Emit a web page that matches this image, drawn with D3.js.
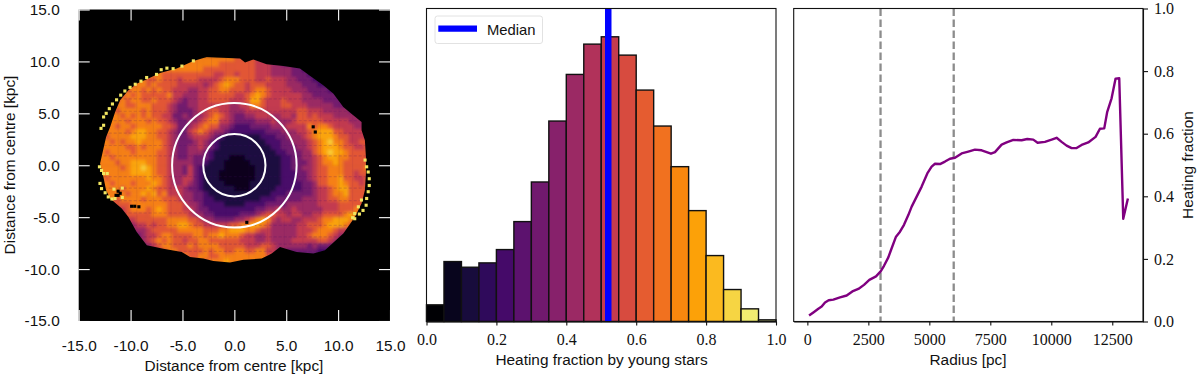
<!DOCTYPE html>
<html>
<head>
<meta charset="utf-8">
<script src="https://d3js.org/d3.v7.min.js"></script>
<style>
  html, body { margin: 0; padding: 0; background: #fff; }
  svg { display: block; }
  text.sans { font-family: "Liberation Sans", sans-serif; }
</style>
</head>
<body>
<div id="chart"></div>
<script>
// map: heating fraction level per 0.5 kpc cell (0 = dark .. 9 = bright)
const mapRowsTop = 10.5, mapColsLeft = -13.5, mapCell = 0.5;
const levelFractions = [.05, .11, .22, .32, .42, .52, .62, .72, .8, .88];
const mapRows = [
  "777777777 777777777 777777777 666655554 333322222 222222222",
  "777777777 777777777 777777666 666655544 333222222 222222222",
  "777777777 777777777 777666666 666655544 443322222 222222222",
  "777777777 777766666 666665566 566655544 443332222 222222222",
  "777777777 766766656 665555677 766655655 544333222 222222222",
  "777777767 767666655 555456787 665666555 544433322 222222222",
  "777777677 676766555 445566776 665677655 554443333 222222222",
  "777776767 666667554 445566666 556787655 555544333 332222222",
  "777767677 667666543 445566665 556886555 655544443 333322222",
  "777777667 776665433 445555554 455776555 665554444 433332222",
  "777767777 676665433 345566554 445555555 555665554 444433333",
  "777776767 676655334 344567654 334455544 554665655 544444333",
  "777777677 767665433 445677554 333344454 445666665 555544443",
  "777767767 777766533 456766443 222333344 455557677 655554444",
  "777777678 877665433 567654432 222222333 444556788 866555555",
  "776777788 877665433 455543211 111112223 344456788 876655555",
  "777676778 777765433 345432111 111111222 334445678 977655666",
  "777777667 677765433 445432111 111111122 333445678 887665566",
  "776777767 777665433 444321111 111111112 233344678 988766666",
  "777677777 777665433 433321110 001111111 223344567 887766666",
  "777767788 877665444 433211100 000111111 223334567 787666667",
  "777776788 987665443 532111100 000011111 223344566 777666677",
  "777777788 887665443 532111000 000011111 222334566 777665666",
  "776777777 787765445 532111000 000011111 222334566 778665566",
  "777677767 778765445 432111100 000111111 222233466 778766566",
  "077776777 787665554 332111111 000111112 222233455 678866666",
  "007777677 878675554 433211111 111111122 233333455 677866666",
  "447767777 677766654 433221111 111112223 333344455 667766666",
  "544566677 777776665 443222211 112222333 344444455 556666666",
  "444455677 767876665 543322222 222233445 445444445 556667666",
  "443345666 667776666 544332222 233345665 545544556 666787666",
  "333334556 666667777 665443333 445678754 554455567 788876655",
  "333333445 565667788 766555556 677887644 444556667 888766544",
  "333333344 456666677 777666778 887765544 444555677 765544333",
  "333333333 455677666 677677877 765544544 444556777 654433322",
  "333333334 456767665 667766666 655544544 445555566 543333222",
  "333333333 345677666 767777666 665556654 444443433 333322222",
  "333333333 334567766 666767766 776677554 433333322 222222222",
  "333333333 333356777 667766777 777777655 433222222 222222222",
  "333333333 333335667 777677787 777777766 333222222 222222222",
  "333333333 333335667 777777777 777777766 333222222 222222222"
];
// edge of the disc in kpc, clockwise from the top
const discOutline = [
  [-2.66,10.43],[-1.7,10.37],[.55,10.27],[1.03,9.89],[1.83,10.18],[3.11,9.73],[4.72,9.57],[6.32,9.31],
  [7.45,8.51],[8.57,7.7],[9.53,6.9],[10.5,5.62],[11.46,4.82],[12.26,4.17],[12.26,3.37],[12.58,2.41],
  [12.68,.8],[12.68,-.8],[12.58,-2.41],[12.26,-3.69],[11.62,-4.98],[10.5,-6.58],[8.73,-8.19],[7.61,-8.51],
  [6,-8.35],[4.4,-7.87],[3.6,-8.51],[2.63,-8.99],[.87,-9.09],[-.42,-9.37],[-2.02,-9.21],[-2.99,-8.99],
  [-4.27,-8.83],[-5.07,-8.35],[-6.84,-8.03],[-8.44,-7.7],[-9.41,-6.42],[-10.21,-4.98],[-10.85,-4.17],
  [-11.97,-3.21],[-12.36,-2.41],[-12.62,-1.12],[-12.94,.16],[-12.65,1.44],[-12.36,2.73],[-11.97,3.69],
  [-11.49,5.14],[-11.01,6.26],[-10.21,7.22],[-9.37,7.87],[-8.28,8.35],[-7.16,8.89],[-5.55,9.31],[-3.95,10.05]
];
// isolated bright pixels along the rim
const rimSpeckles = [
  [-12.6,4.65],[-12.35,5],[-12.05,5.45],[-11.75,5.9],[-11.35,6.3],[-10.95,6.75],[-10.55,7.15],[-10.05,7.5],
  [-9.55,7.8],[-9,8.1],[-8.45,8.45],[-7.5,8.75],[-7.05,9.2],[-6.5,9.35],[-5.9,9.3],[-5.05,9.55],[-3.95,10.05],
  [-12.6,3.85],[-12.85,3.55],[-13,-.15],[-12.8,-.5],[-12.6,-.8],[-12.25,-.8],[-12.95,-1.75],[-12.8,-2.25],
  [-12.45,-2.65],[-12.15,-3.05],[-11.8,-3.25],[-11.6,-2.3],[-10.8,-2.2],[-11.5,-3.2],[-10.8,-3.1],
  [12.6,.5],[12.75,-.15],[12.9,-.65],[13,-1.3],[13,-1.95],[12.9,-2.55],[12.75,-3.2],[12.7,-3.85],[12.4,-4.35],
  [12.05,-4.7],[11.6,-5.15],[12.25,-3.35],[11.95,-4],[11.6,-4.65],[11.4,-5.05]
];
// masked pixels inside the disc
const mapHoles = [
  [-11.2,-2.5],[-11.2,-2.9],[-11,-2.7],[-11.4,-2.9],[-9.9,-3.95],[-9.6,-3.95],[-9.2,-4],
  [7.6,3.7],[7.8,3.2],[1.2,-5.5]
];
// the map's faint crosshatch: rows and columns that read darker than their neighbours
const darkRowsY = [8.2,7.1,6.4,5.2,4.3,3.1,1.9,.9,-1.1,-2.2,-3.4,-4.6,-5.8,-6.9,-7.6,-8.3];
const darkColsX = [-11.2,-9.4,-7.8,-6.1,-3.6,-2.2,-.8,1.4,3.2,4.8,6.6,8.3,10.1,11.4];
const ringRadii = [3, 6];
const mapTicks = [-15, -10, -5, 0, 5, 10, 15];

// histogram
const binWidth = 0.05;
const histCounts = [50,180,163,176,216,300,419,602,742,833,855,800,695,587,465,333,198,96,38,5];
const histTop = 940;
const medianFraction = 0.52;
const histTicks = [0, 0.2, 0.4, 0.6, 0.8, 1];

// radial profile
const radiusPc = [70,246,451,587,724,874,1066,1339,1612,1844,2090,2322,2541,2814,3005,3142,3320,3456,3634,3798,3962,4139,4276,4481,4686,4918,5095,5232,5437,5642,5847,6052,6325,6598,6871,7145,7350,7527,7691,7964,8169,8443,8784,9016,9262,9439,9740,10013,10218,10423,10628,10833,11038,11243,11516,11816,11994,12171,12294,12472,12636,12786,12950,13141];
const heatFraction = [.019,.029,.041,.048,.061,.068,.070,.077,.083,.096,.104,.117,.133,.144,.160,.178,.205,.234,.271,.287,.309,.340,.367,.399,.431,.473,.495,.504,.503,.511,.520,.523,.537,.543,.549,.547,.541,.536,.541,.565,.572,.580,.579,.583,.581,.571,.574,.581,.587,.574,.562,.554,.554,.564,.572,.590,.616,.617,.670,.713,.776,.777,.328,.393];
const profileMarks = [3000, 6000];
const radiusTicks = [0, 2500, 5000, 7500, 10000, 12500];
const fractionTicks = [0, 0.2, 0.4, 0.6, 0.8, 1];

const width = 1200, height = 381;
const plotTop = 8.5, plotBottom = 321.5;
const labelSize = '15.4px', serifSize = '16px';

const svg = d3.select('#chart').append('svg')
    .attr('width', width)
    .attr('height', height);

// ---- left panel: map ----
const mapX = d3.scaleLinear().domain([-15, 15]).range([78.7, 390]);
const mapY = d3.scaleLinear().domain([-15, 15]).range([321, 9.5]);
const levelColor = d => d3.interpolateInferno(levelFractions[d]);

svg.append('rect')
    .attr('x', mapX(-15)).attr('y', mapY(15))
    .attr('width', mapX(15) - mapX(-15)).attr('height', mapY(-15) - mapY(15))
    .attr('fill', '#000');

const outlineLine = d3.line().x(d => mapX(d[0])).y(d => mapY(d[1]));
svg.append('clipPath').attr('id', 'disc').append('path').attr('d', outlineLine(discOutline) + 'Z');

const blur = svg.append('filter').attr('id', 'soft')
    .attr('x', '-5%').attr('y', '-5%').attr('width', '110%').attr('height', '110%');
blur.append('feGaussianBlur').attr('stdDeviation', 1.7);

const cells = [];
mapRows.forEach((row, r) => {
    row.replace(/ /g, '').split('').forEach((ch, c) => {
        cells.push({ x: mapColsLeft + c * mapCell, y: mapRowsTop - r * mapCell, level: +ch });
    });
});

const disc = svg.append('g').attr('clip-path', 'url(#disc)');
disc.append('g').attr('filter', 'url(#soft)')
    .selectAll('rect').data(cells).enter().append('rect')
    .attr('x', d => mapX(d.x))
    .attr('y', d => mapY(d.y))
    .attr('width', mapX(mapCell) - mapX(0) + 0.5)
    .attr('height', mapY(0) - mapY(mapCell) + 0.5)
    .attr('fill', d => levelColor(d.level));

disc.append('g').selectAll('line').data(darkRowsY).enter().append('line')
    .attr('x1', mapX(-15)).attr('x2', mapX(15))
    .attr('y1', d => mapY(d)).attr('y2', d => mapY(d))
    .attr('stroke', '#4a0c6b').attr('stroke-width', 1.2)
    .attr('stroke-opacity', 0.18).attr('stroke-dasharray', '3,2');
disc.append('g').selectAll('line').data(darkColsX).enter().append('line')
    .attr('y1', mapY(15)).attr('y2', mapY(-15))
    .attr('x1', d => mapX(d)).attr('x2', d => mapX(d))
    .attr('stroke', '#4a0c6b').attr('stroke-width', 1)
    .attr('stroke-opacity', 0.08);

const pix = 0.3;
svg.append('g').selectAll('rect').data(rimSpeckles).enter().append('rect')
    .attr('x', d => mapX(d[0] - pix / 2))
    .attr('y', d => mapY(d[1] + pix / 2))
    .attr('width', mapX(pix) - mapX(0))
    .attr('height', mapY(0) - mapY(pix))
    .attr('fill', d3.interpolateInferno(0.93));
svg.append('g').selectAll('rect').data(mapHoles).enter().append('rect')
    .attr('x', d => mapX(d[0] - pix / 2))
    .attr('y', d => mapY(d[1] + pix / 2))
    .attr('width', mapX(pix) - mapX(0))
    .attr('height', mapY(0) - mapY(pix))
    .attr('fill', '#000');

svg.append('g').selectAll('circle').data(ringRadii).enter().append('circle')
    .attr('cx', mapX(0)).attr('cy', mapY(0))
    .attr('r', d => mapX(d) - mapX(0))
    .attr('fill', 'none').attr('stroke', '#fff').attr('stroke-width', 2);

const fmtMap = d => d3.format('.1f')(d).replace('−', '-');
const inTick = 11;
const styleMapAxis = g => {
    g.select('.domain').remove();
    g.selectAll('.tick line').attr('stroke', '#fff').attr('stroke-width', 1.1);
    g.selectAll('text').attr('fill', '#111').style('font-size', labelSize).style('font-family', '"Liberation Sans", sans-serif');
};
svg.append('g').attr('transform', `translate(0,${mapY(-15)})`)
    .call(d3.axisBottom(mapX).tickValues(mapTicks).tickFormat(fmtMap).tickSize(-inTick).tickPadding(19)).call(styleMapAxis);
svg.append('g').attr('transform', `translate(${mapX(-15)},0)`)
    .call(d3.axisLeft(mapY).tickValues(mapTicks).tickFormat(fmtMap).tickSize(-inTick).tickPadding(19)).call(styleMapAxis);
svg.append('g').attr('transform', `translate(0,${mapY(15)})`)
    .call(d3.axisTop(mapX).tickValues(mapTicks).tickFormat('').tickSize(-inTick)).call(styleMapAxis);
svg.append('g').attr('transform', `translate(${mapX(15)},0)`)
    .call(d3.axisRight(mapY).tickValues(mapTicks).tickFormat('').tickSize(-inTick)).call(styleMapAxis);

const addLabel = (x, y, txt, rot) => svg.append('text')
    .attr('class', 'sans')
    .attr('transform', `translate(${x},${y})` + (rot ? ` rotate(${rot})` : ''))
    .attr('text-anchor', 'middle')
    .attr('fill', '#111')
    .style('font-size', labelSize)
    .text(txt);

addLabel(234, 371, 'Distance from centre [kpc]');
addLabel(15, 165, 'Distance from centre [kpc]', -90);

// ---- middle panel: histogram ----
const histX = d3.scaleLinear().domain([0, 1]).range([426.5, 776]);
const histY = d3.scaleLinear().domain([0, histTop]).range([plotBottom, plotTop]);
const nBins = histCounts.length;

svg.append('g').selectAll('rect').data(histCounts).enter().append('rect')
    .attr('x', (d, i) => histX(i * binWidth))
    .attr('y', d => histY(d))
    .attr('width', histX(binWidth) - histX(0))
    .attr('height', d => histY(0) - histY(d))
    .attr('fill', (d, i) => d3.interpolateInferno(i / (nBins - 1)))
    .attr('stroke', '#111')
    .attr('stroke-width', 1.4);

svg.append('line')
    .attr('x1', histX(medianFraction)).attr('x2', histX(medianFraction))
    .attr('y1', plotTop).attr('y2', plotBottom)
    .attr('stroke', '#0000ff').attr('stroke-width', 6.5);

svg.append('rect')
    .attr('x', histX(0)).attr('y', plotTop)
    .attr('width', histX(1) - histX(0)).attr('height', plotBottom - plotTop)
    .attr('fill', 'none').attr('stroke', '#111').attr('stroke-width', 1.1);

const styleSerifAxis = g => {
    g.select('.domain').attr('stroke', '#111').attr('stroke-width', 1.1);
    g.selectAll('.tick line').attr('stroke', '#111').attr('stroke-width', 1.1);
    g.selectAll('text').attr('fill', '#111').style('font-size', serifSize).style('font-family', '"Liberation Serif", serif');
};
svg.append('g').attr('transform', `translate(0,${plotBottom})`)
    .call(d3.axisBottom(histX).tickValues(histTicks).tickFormat(d3.format('.1f')).tickSize(4).tickSizeOuter(0).tickPadding(8))
    .call(styleSerifAxis);

addLabel(601.5, 365, 'Heating fraction by young stars');

const legend = svg.append('g');
legend.append('rect')
    .attr('x', 435).attr('y', 16).attr('width', 107.5).attr('height', 27.5).attr('rx', 2.5)
    .attr('fill', '#fff').attr('stroke', '#e2e2e2').attr('stroke-width', 1);
legend.append('line')
    .attr('x1', 438.3).attr('x2', 477).attr('y1', 28.7).attr('y2', 28.7)
    .attr('stroke', '#0000ff').attr('stroke-width', 6.2);
legend.append('text').attr('class', 'sans')
    .attr('x', 487).attr('y', 34.5).attr('fill', '#111').style('font-size', '14.8px')
    .text('Median');

// ---- right panel: radial profile ----
const profX = d3.scaleLinear().domain([-560, 13760]).range([793.7, 1143]);
const profY = d3.scaleLinear().domain([0, 1]).range([plotBottom, plotTop]);

svg.append('g').selectAll('line').data(profileMarks).enter().append('line')
    .attr('x1', d => profX(d)).attr('x2', d => profX(d))
    .attr('y1', plotTop).attr('y2', plotBottom)
    .attr('stroke', '#8c8c8c').attr('stroke-width', 2.3).attr('stroke-dasharray', '7.5,3.5');

const profLine = d3.line().x(d => profX(d[0])).y(d => profY(d[1]));
svg.append('path')
    .attr('d', profLine(radiusPc.map((r, i) => [r, heatFraction[i]])))
    .attr('fill', 'none').attr('stroke', '#800080').attr('stroke-width', 2.4).attr('stroke-linejoin', 'round');

svg.append('rect')
    .attr('x', profX.range()[0]).attr('y', plotTop)
    .attr('width', profX.range()[1] - profX.range()[0]).attr('height', plotBottom - plotTop)
    .attr('fill', 'none').attr('stroke', '#111').attr('stroke-width', 1.1);

svg.append('g').attr('transform', `translate(0,${plotBottom})`)
    .call(d3.axisBottom(profX).tickValues(radiusTicks).tickFormat(d3.format('d')).tickSize(4).tickSizeOuter(0).tickPadding(8))
    .call(styleSerifAxis);
svg.append('g').attr('transform', `translate(1143,0)`)
    .call(d3.axisRight(profY).tickValues(fractionTicks).tickFormat(d3.format('.1f')).tickSize(5).tickSizeOuter(0).tickPadding(6))
    .call(styleSerifAxis);

addLabel(968, 365, 'Radius [pc]');
addLabel(1193, 165, 'Heating fraction', -90);
</script>
</body>
</html>
